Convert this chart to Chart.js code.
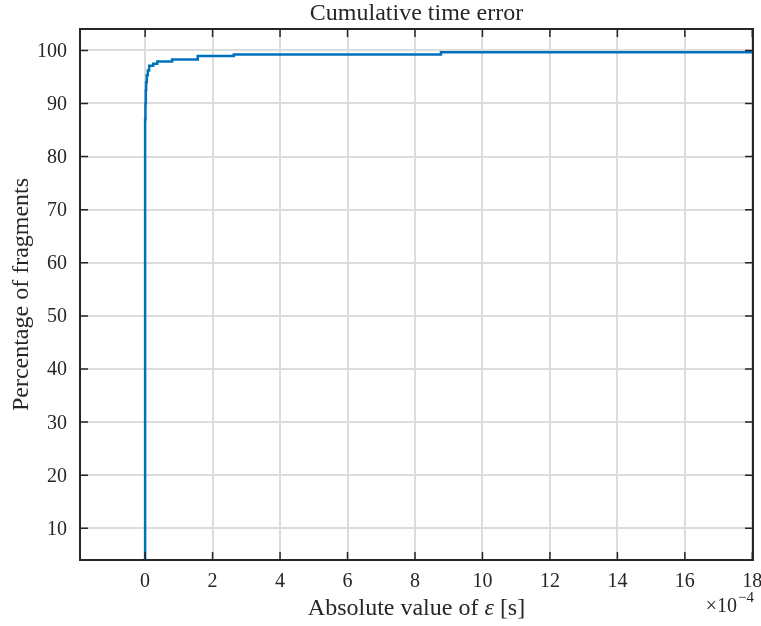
<!DOCTYPE html>
<html><head><meta charset="utf-8">
<script src="https://cdn.jsdelivr.net/npm/chart.js@4.4.0/dist/chart.umd.min.js"></script>
<style>html,body{margin:0;padding:0;background:#fff}#wrap{width:761px;height:626px}</style>
</head><body><div id="wrap"><canvas id="c" width="761" height="626"></canvas></div>
<script>
// Absolute error (units of 1e-4 s) and cumulative percentage of fragments
const errorX = [0, 0, 0.01, 0.02, 0.03, 0.05, 0.08, 0.12, 0.24, 0.36, 0.80, 1.56, 2.63, 8.77, 18.0];
const percentY = [4.03, 87, 90, 92.5, 94, 95.3, 96.2, 97.1, 97.5, 97.9, 98.3, 98.95, 99.25, 99.65, 100];
const xTicks = [0, 2, 4, 6, 8, 10, 12, 14, 16, 18];
const yTicks = [10, 20, 30, 40, 50, 60, 70, 80, 90, 100];
const titleText = 'Cumulative time error';
const yLabel = 'Percentage of fragments';
const xLabelParts = [['Absolute value of ', false], ['\u03B5', true], [' [s]', false]];

const AX = '#262626';
const SERIF = '"Liberation Serif", "DejaVu Serif", serif';

const boxPlugin = {
  id: 'box',
  afterDraw(chart) {
    const ctx = chart.ctx, a = chart.chartArea;
    const xs = chart.scales.x, ys = chart.scales.y;
    ctx.save();
    ctx.strokeStyle = AX;
    ctx.lineWidth = 2;
    ctx.strokeRect(a.left, a.top, a.right - a.left, a.bottom - a.top);
    ctx.lineWidth = 1.5;
    const tl = 8;
    ctx.beginPath();
    xTicks.forEach(v => {
      const px = xs.getPixelForValue(v);
      ctx.moveTo(px, a.bottom); ctx.lineTo(px, a.bottom - tl);
      ctx.moveTo(px, a.top); ctx.lineTo(px, a.top + tl);
    });
    yTicks.forEach(v => {
      const py = ys.getPixelForValue(v);
      ctx.moveTo(a.left, py); ctx.lineTo(a.left + tl, py);
      ctx.moveTo(a.right, py); ctx.lineTo(a.right - tl, py);
    });
    ctx.stroke();
    ctx.fillStyle = AX;
    ctx.textBaseline = 'alphabetic';
    // tick labels
    ctx.font = '20px ' + SERIF;
    ctx.textAlign = 'center';
    xTicks.forEach(v => ctx.fillText(String(v), xs.getPixelForValue(v), a.bottom + 27));
    ctx.textAlign = 'right';
    yTicks.forEach(v => ctx.fillText(String(v), a.left - 13, ys.getPixelForValue(v) + 6.5));
    const cx = (a.left + a.right) / 2;
    // title
    ctx.font = '24px ' + SERIF;
    ctx.textAlign = 'center';
    ctx.fillText(titleText, cx, 20);
    // x label
    let total = 0;
    const widths = xLabelParts.map(([t, it]) => {
      ctx.font = (it ? 'italic ' : '') + '24px ' + SERIF;
      const w = ctx.measureText(t).width; total += w; return w;
    });
    let x0 = cx - total / 2;
    ctx.textAlign = 'left';
    xLabelParts.forEach(([t, it], i) => {
      ctx.font = (it ? 'italic ' : '') + '24px ' + SERIF;
      ctx.fillText(t, x0, 615);
      x0 += widths[i];
    });
    // y label
    ctx.save();
    ctx.translate(28, (a.top + a.bottom) / 2);
    ctx.rotate(-Math.PI / 2);
    ctx.font = '24px ' + SERIF;
    ctx.textAlign = 'center';
    ctx.fillText(yLabel, 0, 0);
    ctx.restore();
    // exponent
    ctx.textAlign = 'left';
    ctx.font = '20px ' + SERIF;
    const base = '\u00D710';
    const bw = ctx.measureText(base).width;
    ctx.font = '15px ' + SERIF;
    const sup = '\u22124';
    const sw = ctx.measureText(sup).width;
    const start = a.right - bw - sw;
    ctx.font = '20px ' + SERIF;
    ctx.fillText(base, start, 612);
    ctx.font = '15px ' + SERIF;
    ctx.fillText(sup, start + bw + 1, 602);
    ctx.restore();
  }
};

new Chart(document.getElementById('c'), {
  type: 'line',
  data: {
    datasets: [{
      data: errorX.map((x, i) => ({x: x, y: percentY[i]})),
      borderColor: '#0072BD',
      borderWidth: 2.5,
      pointRadius: 0,
      stepped: true,
      fill: false,
      tension: 0
    }]
  },
  options: {
    responsive: false,
    animation: false,
    devicePixelRatio: 1,
    layout: {padding: {left: 80, right: 8, top: 29, bottom: 66}},
    plugins: {legend: {display: false}, tooltip: {enabled: false}, title: {display: false}},
    scales: {
      x: {
        type: 'linear', min: -1.93, max: 18.02,
        afterBuildTicks: s => { s.ticks = xTicks.map(v => ({value: v})); },
        afterFit: s => { s.height = 0; s.paddingLeft = 0; s.paddingRight = 0; },
        grid: {color: '#dcdcdc', lineWidth: 2, drawTicks: false},
        border: {display: false},
        ticks: {display: false}
      },
      y: {
        type: 'linear', min: 4.03, max: 104.03,
        afterBuildTicks: s => { s.ticks = yTicks.map(v => ({value: v})); },
        afterFit: s => { s.width = 0; s.paddingTop = 0; s.paddingBottom = 0; },
        grid: {color: '#dcdcdc', lineWidth: 2, drawTicks: false},
        border: {display: false},
        ticks: {display: false}
      }
    }
  },
  plugins: [boxPlugin]
});
</script></body></html>
